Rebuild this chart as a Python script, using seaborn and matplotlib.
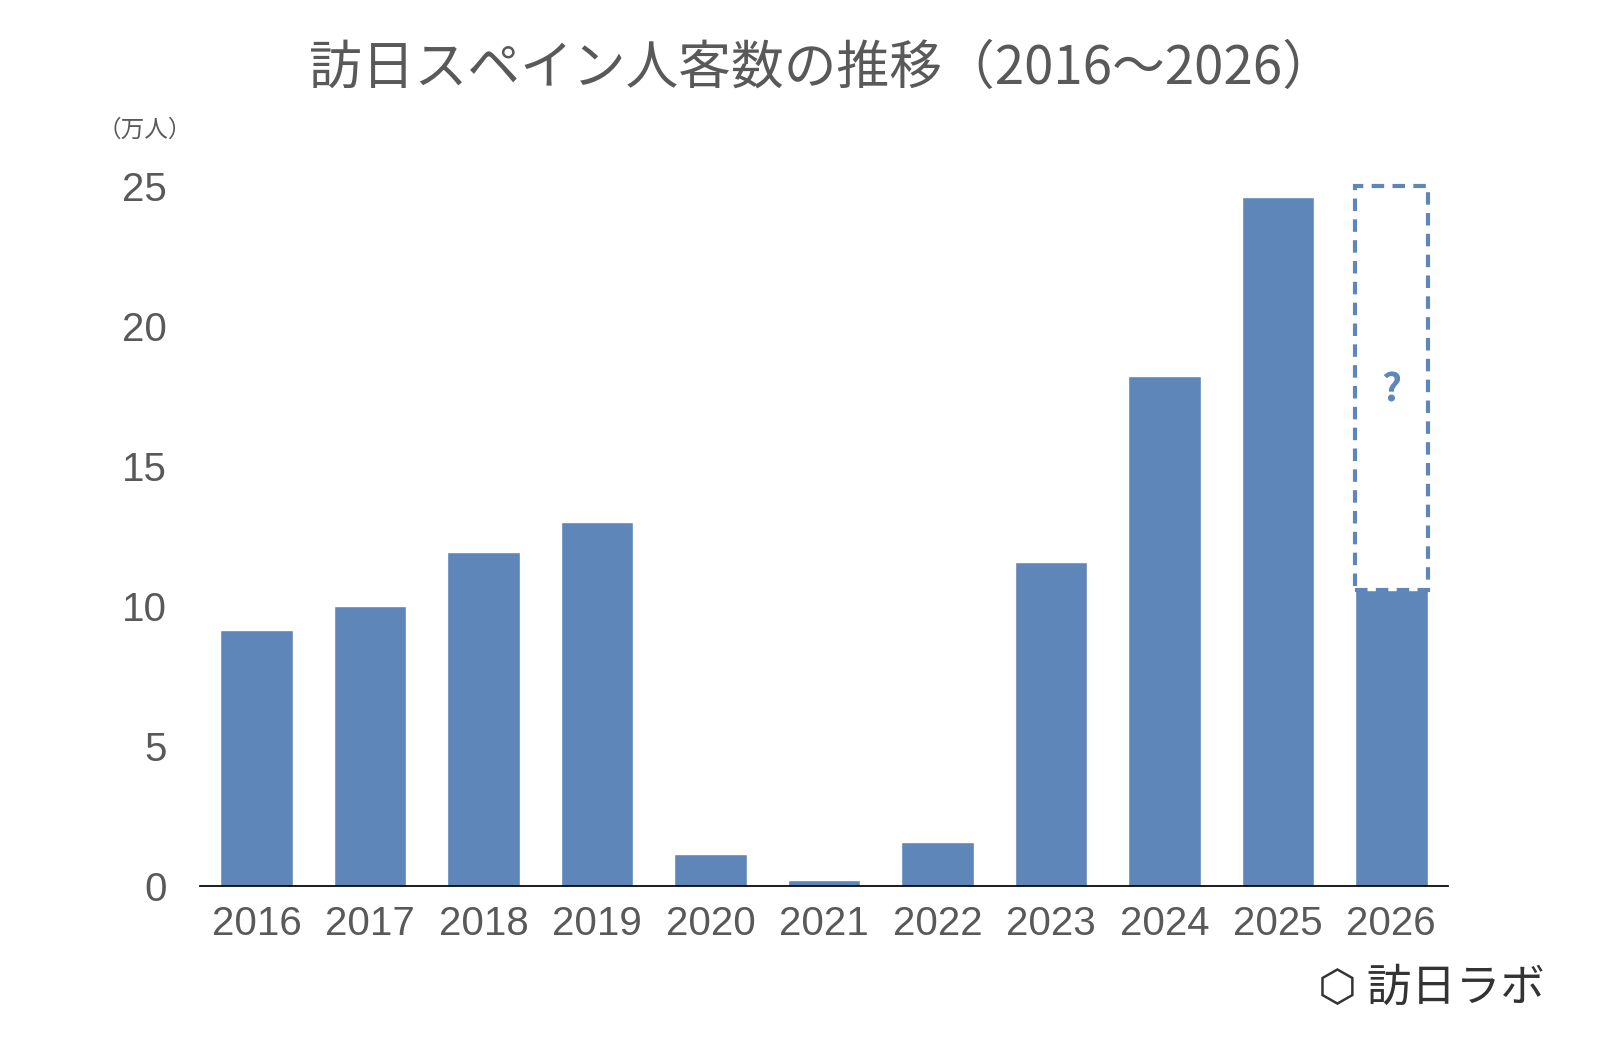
import matplotlib
matplotlib.use("Agg")
import matplotlib.pyplot as plt
import seaborn as sns
import pandas as pd
from matplotlib.patches import Rectangle

years = ["2016","2017","2018","2019","2020","2021","2022","2023","2024","2025","2026"]
values = [9.14, 10.0, 11.93, 13.0, 1.14, 0.21, 1.57, 11.57, 18.21, 24.6, 10.57]
forecast_top = 25.0
yticks = [0, 5, 10, 15, 20, 25]

sns.set_theme(style="white")
plt.rcParams['font.family'] = ['Noto Sans CJK JP', 'DejaVu Sans']
color = "#5E86B8"
grey = "#595959"

fig = plt.figure(figsize=(16, 10.48), dpi=100)
ax = fig.add_axes([200/1600, 1-886/1048, 1248/1600, 700/1048])
df = pd.DataFrame({"year": years, "value": values})
sns.barplot(data=df, x="year", y="value", color=color, saturation=1, width=0.64, ax=ax)
ax.set_ylim(0, 25)
ax.set_xlim(-0.5, len(years)-0.5)
ax.set_yticks(yticks)
ax.set_xlabel(""); ax.set_ylabel("")
for s in ["top", "right", "left"]:
    ax.spines[s].set_visible(False)
ax.spines["bottom"].set_color("black")
ax.tick_params(axis="both", length=0, labelsize=29, labelcolor=grey)
ax.tick_params(axis="x", pad=14)
ax.tick_params(axis="y", pad=24)
for lab in ax.get_xticklabels() + ax.get_yticklabels():
    lab.set_family(["Liberation Sans", "DejaVu Sans"])

i = len(years) - 1
ax.add_patch(Rectangle((i-0.32, values[i]), 0.64, forecast_top-values[i], fill=False,
                       edgecolor=color, linestyle=(0, (3, 2)), linewidth=3, clip_on=False))
ax.text(i, 17.7, "?", color=color, fontsize=28, fontweight="bold", ha="center", va="center")

fig.text(822/1600, 1-68/1048, "訪日スペイン人客数の推移（2016～2026）", ha="center", va="center",
         fontsize=38, color=grey)
fig.text(145/1600, 1-130/1048, "（万人）", ha="center", va="center", fontsize=17, color=grey)
fig.text(1545/1600, 1-988/1048, "⬡ 訪日ラボ", ha="right", va="center", fontsize=32, color="#333333",
         family=["Noto Sans CJK JP", "DejaVu Sans"])
fig.savefig("out.png", dpi=100)
